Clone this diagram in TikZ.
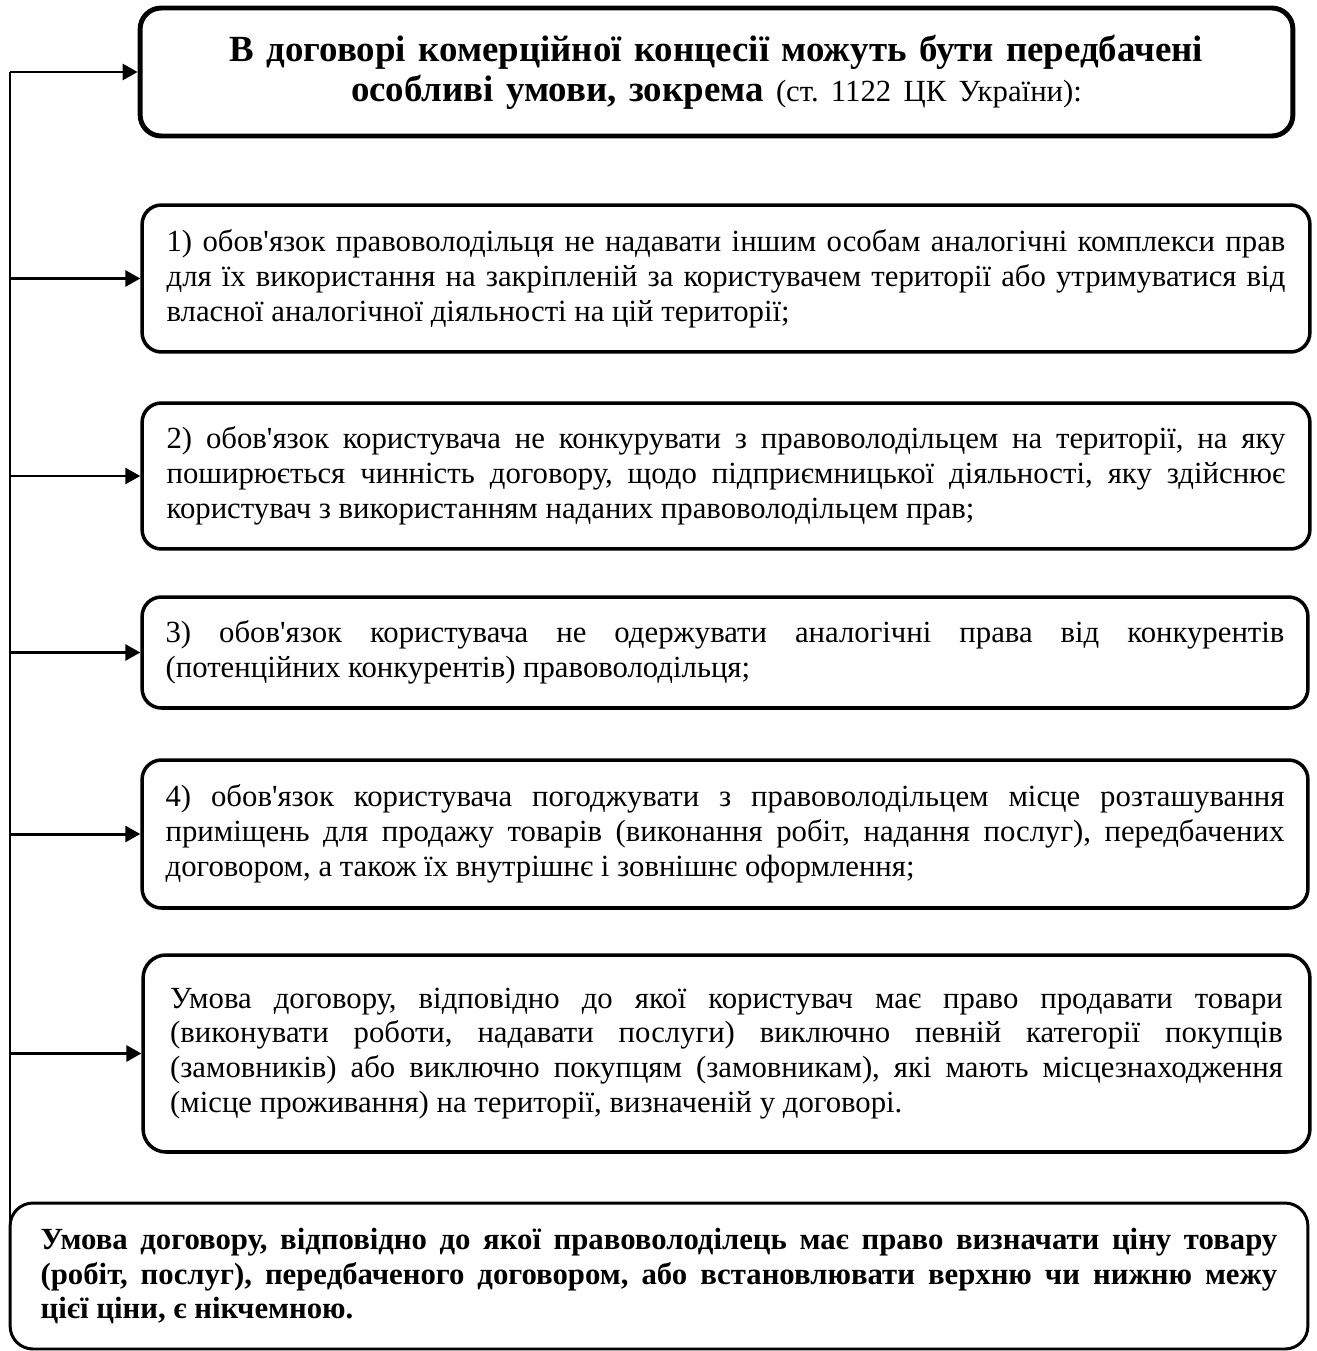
\documentclass[tikz,border=0pt]{standalone}
\usepackage{fontspec}
\setmainfont{Liberation Serif}[Ligatures=TeXOff]
\usetikzlibrary{arrows.meta}
\hyphenpenalty=10000
\tolerance=9999
\frenchspacing

\begin{document}
\begin{tikzpicture}[x=0.02cm, y=-0.02cm,
  cond/.style={draw, line width=2pt, rounded corners=11pt, inner sep=0pt,
    minimum width=23.36cm, text width=22.38cm, align=justify,
    font=\fontsize{17.5}{19.8}\selectfont},
  link/.style={line width=1.7pt}]
  \useasboundingbox (0,0) rectangle (1317,1351);
  % title
  \node[draw, line width=2.8pt, rounded corners=12pt, inner sep=0pt,
    minimum width=23.06cm, minimum height=2.56cm, text width=22cm, align=center,
    font=\fontsize{21}{22.8}\selectfont\bfseries] (head) at (716.5,72)
    {В договорі комерційної концесії можуть бути передбачені\\
     особливі умови, зокрема {\mdseries\fontsize{17.5}{22.8}\selectfont(ст. 1122 ЦК України):}};
  % conditions
  \node[cond, minimum height=2.94cm] (c1) at (726,278.5)
    {1) обов'язок правоволодільця не надавати іншим особам аналогічні комплекси прав\linebreak
     для їх використання на закріпленій за користувачем території або утримуватися від\linebreak
     власної аналогічної діяльності на цій території;};
  \node[cond, minimum height=2.92cm] (c2) at (726,476)
    {2) обов'язок користувача не конкурувати з правоволодільцем на території, на яку\linebreak
     поширюється чинність договору, щодо підприємницької діяльності, яку здійснює\linebreak
     користувач з використанням наданих правоволодільцем прав;};
  \node[cond, minimum width=23.32cm, minimum height=2.22cm] (c3) at (725,652.5)
    {3) обов'язок користувача не одержувати аналогічні права від конкурентів\linebreak
     (потенційних конкурентів) правоволодільця;};
  \node[cond, minimum width=23.32cm, minimum height=2.96cm] (c4) at (725,834)
    {4) обов'язок користувача погоджувати з правоволодільцем місце розташування\linebreak
     приміщень для продажу товарів (виконання робіт, надання послуг), передбачених\linebreak
     договором, а також їх внутрішнє і зовнішнє оформлення;};
  \node[cond, minimum width=23.34cm, minimum height=3.94cm, text width=22.26cm,
    rounded corners=13pt] (c5) at (726.5,1053.5)
    {Умова договору, відповідно до якої користувач має право продавати товари\linebreak
     (виконувати роботи, надавати послуги) виключно певній категорії покупців\linebreak
     (замовників) або виключно покупцям (замовникам), які мають місцезнаходження\linebreak
     (місце проживання) на території, визначеній у договорі.};
  % void condition
  \node[cond, line width=1.7pt, rounded corners=13pt, minimum width=25.96cm,
    minimum height=2.92cm, text width=24.74cm,
    font=\fontsize{17.5}{19.8}\selectfont\bfseries] (void) at (659,1276)
    {Умова договору, відповідно до якої правоволоділець має право визначати ціну товару\linebreak
     (робіт, послуг), передбаченого договором, або встановлювати верхню чи нижню межу\linebreak
     цієї ціни, є нікчемною.};
  % connectors
  \coordinate (spine) at (10,72);
  \draw[link] (spine) -- (spine |- void.west);
  \draw[link, -{Triangle[length=8.5pt, width=9pt]}] (spine) -- (head.west);
  \foreach \n in {c1,c2,c3,c4,c5}
    \draw[link, -{Triangle[length=8.5pt, width=9pt]}] (spine |- \n.west) -- (\n.west);
\end{tikzpicture}
\end{document}
